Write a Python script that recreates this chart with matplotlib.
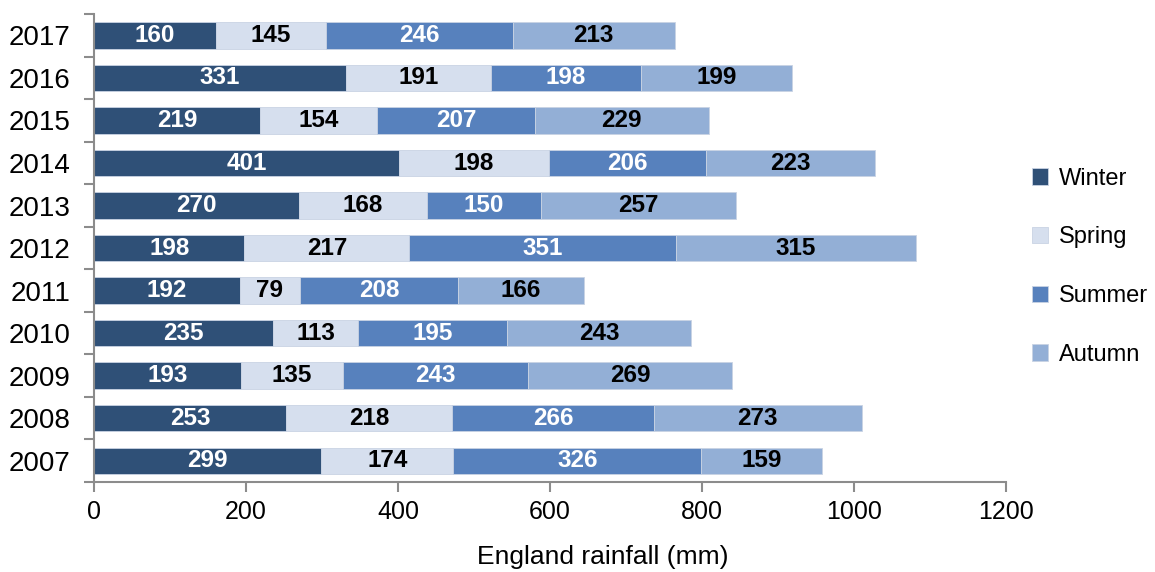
import matplotlib.pyplot as plt
import numpy as np

plt.rcParams['font.family'] = ['Liberation Sans', 'DejaVu Sans']

years = ["2007", "2008", "2009", "2010", "2011", "2012", "2013", "2014", "2015", "2016", "2017"]
winter = [299, 253, 193, 235, 192, 198, 270, 401, 219, 331, 160]
spring = [174, 218, 135, 113, 79, 217, 168, 198, 154, 191, 145]
summer = [326, 266, 243, 195, 208, 351, 150, 206, 207, 198, 246]
autumn = [159, 273, 269, 243, 166, 315, 257, 223, 229, 199, 213]

seasons = ["Winter", "Spring", "Summer", "Autumn"]
colours = ["#2F5077", "#D6DFEE", "#5781BD", "#93AFD6"]
text_colours = ["white", "black", "white", "black"]

fig = plt.figure(figsize=(11.55, 5.72), dpi=100)
ax = fig.add_axes([0.0814, 0.1573, 0.7896, 0.818])

y = np.arange(len(years))
left = np.zeros(len(years))
for name, vals, col, tcol in zip(seasons, [winter, spring, summer, autumn], colours, text_colours):
    vals = np.array(vals)
    bars = ax.barh(y, vals, left=left, height=0.62, color=col, label=name,
                   edgecolor="#c9d3e3", linewidth=0.6)
    ax.bar_label(bars, labels=[str(v) for v in vals], label_type="center",
                 color=tcol, fontsize=17.5, fontweight="bold")
    left += vals

ax.set_xlim(0, 1200)
ax.set_ylim(-0.5, len(years) - 0.5)
ax.set_xticks(np.arange(0, 1201, 200))
ax.set_yticks(y)
ax.set_yticklabels(years)
ax.set_yticks(np.arange(-0.5, len(years)), minor=True)
ax.tick_params(axis="y", which="major", length=0, labelsize=20, pad=17)
ax.tick_params(axis="y", which="minor", length=7, width=1.5, color="#8c8c8c")
ax.tick_params(axis="x", length=7, width=1.5, color="#8c8c8c", labelsize=18, pad=6)

for side in ["top", "right"]:
    ax.spines[side].set_visible(False)
for side in ["left", "bottom"]:
    ax.spines[side].set_color("#8c8c8c")
    ax.spines[side].set_linewidth(1.5)

ax.set_xlabel("England rainfall (mm)", fontsize=19)
ax.xaxis.set_label_coords(0.558, -0.135)

ax.legend(loc="center left", bbox_to_anchor=(1.005, 0.46), frameon=False,
          fontsize=17, handlelength=0.7, handleheight=0.7, handletextpad=0.45,
          labelspacing=1.55)

fig.savefig("out.png", dpi=100)
